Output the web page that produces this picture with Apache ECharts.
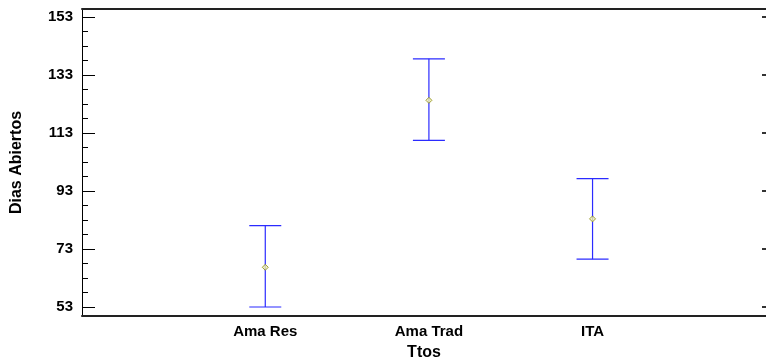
<!DOCTYPE html>
<html><head><meta charset="utf-8">
<script src="https://cdn.jsdelivr.net/npm/echarts@6/dist/echarts.min.js"></script>
<style>html,body{margin:0;padding:0;background:#fff}#c{width:766px;height:363px}</style>
</head><body><div id="c"></div>
<script>
var categories = ['Ama Res', 'Ama Trad', 'ITA'];
var means = [66.7, 124.3, 83.4];
var lower = [53.0, 110.5, 69.5];
var upper = [81.1, 138.6, 97.3];
var yMajorTicks = [53, 73, 93, 113, 133, 153];
var yMinorTicks = [];
for (var v = 53; v <= 153; v += 5) if ((v - 53) % 20 !== 0) yMinorTicks.push(v);

var labelFont = {fontFamily: 'Liberation Sans, Arial, sans-serif', fontWeight: 'bold', fontSize: 15, color: '#000'};
var nameFont = {fontFamily: 'Liberation Sans, Arial, sans-serif', fontWeight: 'bold', fontSize: 16, color: '#000'};
var yMin = 49.9, yMax = 155.8, xMin = -0.12, xMax = 4.06;
var chart = echarts.init(document.getElementById('c'));
var errData = categories.map(function (c, i) { return [i + 1, lower[i], upper[i]]; });
var meanData = categories.map(function (c, i) { return [i + 1, means[i]]; });
var gridBox = {left: 82, top: 9, right: 0, bottom: 47, containLabel: false, outerBoundsMode: 'none'};

chart.setOption({
  animation: false,
  grid: [Object.assign({}, gridBox), Object.assign({}, gridBox), Object.assign({}, gridBox)],
  xAxis: [{
    gridIndex: 0, type: 'value', min: xMin, max: xMax, position: 'bottom',
    name: 'Ttos', nameLocation: 'middle', nameGap: 29,
    nameTextStyle: Object.assign({}, nameFont),
    axisLine: {show: true, onZero: false, lineStyle: {color: '#222', width: 2}},
    axisTick: {show: false}, splitLine: {show: false},
    axisLabel: Object.assign({customValues: [1, 2, 3], margin: 8,
      formatter: function (v) { return categories[Math.round(v) - 1] || ''; }}, labelFont)
  }, {
    gridIndex: 0, type: 'value', min: xMin, max: xMax, position: 'top',
    axisLine: {show: true, onZero: false, lineStyle: {color: '#222', width: 2}},
    axisTick: {show: false}, axisLabel: {show: false}, splitLine: {show: false}
  }, {
    gridIndex: 1, type: 'value', min: xMin, max: xMax, show: false
  }, {
    gridIndex: 2, type: 'value', min: xMin, max: xMax, show: false
  }],
  yAxis: [{
    gridIndex: 0, type: 'value', min: yMin, max: yMax, position: 'left',
    name: 'Dias Abiertos', nameLocation: 'middle', nameGap: 57, nameRotate: 90,
    nameTextStyle: Object.assign({}, nameFont),
    axisLine: {show: true, onZero: false, lineStyle: {color: '#000', width: 1}},
    axisTick: {show: true, inside: true, length: 13, customValues: yMajorTicks, lineStyle: {color: '#000'}},
    axisLabel: Object.assign({customValues: yMajorTicks, margin: 9}, labelFont),
    splitLine: {show: false}
  }, {
    gridIndex: 1, type: 'value', min: yMin, max: yMax, position: 'left',
    axisLine: {show: false, onZero: false},
    axisTick: {show: true, inside: true, length: 6, customValues: yMinorTicks, lineStyle: {color: '#000'}},
    axisLabel: {show: false}, splitLine: {show: false}
  }, {
    gridIndex: 2, type: 'value', min: yMin, max: yMax, position: 'right',
    axisLine: {show: false, onZero: false},
    axisTick: {show: true, inside: true, length: 4, customValues: yMajorTicks, lineStyle: {color: '#333', width: 2}},
    axisLabel: {show: false}, splitLine: {show: false}
  }],
  series: [{
    type: 'custom',
    xAxisIndex: 0, yAxisIndex: 0,
    data: errData,
    renderItem: function (params, api) {
      var x = api.value(0);
      var lo = api.coord([x, api.value(1)]);
      var hi = api.coord([x, api.value(2)]);
      var w = 16;
      var st = {stroke: '#2b2bff', lineWidth: 1.2};
      return {type: 'group', children: [
        {type: 'line', shape: {x1: lo[0], y1: lo[1], x2: hi[0], y2: hi[1]}, style: st},
        {type: 'line', shape: {x1: lo[0] - w, y1: lo[1], x2: lo[0] + w, y2: lo[1]}, style: st},
        {type: 'line', shape: {x1: hi[0] - w, y1: hi[1], x2: hi[0] + w, y2: hi[1]}, style: st}
      ]};
    },
    z: 2
  }, {
    type: 'scatter',
    xAxisIndex: 0, yAxisIndex: 0,
    data: meanData,
    symbol: 'diamond', symbolSize: 6,
    itemStyle: {color: '#f0f0b0', borderColor: '#8a8a10', borderWidth: 1},
    z: 3
  }]
});
</script></body></html>
